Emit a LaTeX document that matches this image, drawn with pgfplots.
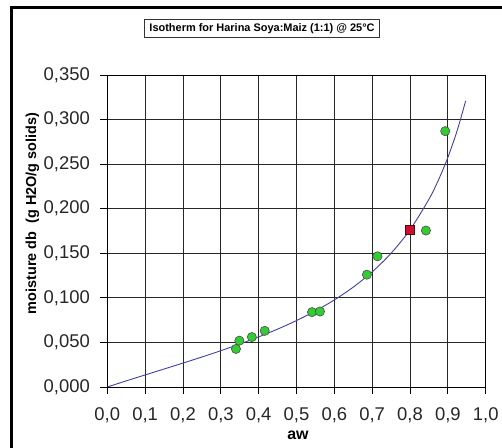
\documentclass[border=0pt]{standalone}
\usepackage{fontspec}
\setmainfont{Liberation Sans}
\usepackage{pgfplots}
\pgfplotsset{compat=1.18}
\definecolor{ptgreen}{RGB}{51,204,51}
\definecolor{ptred}{RGB}{204,16,48}
\definecolor{curveblue}{RGB}{64,64,160}
\begin{document}
\begin{tikzpicture}
\useasboundingbox (-107.3bp,-61bp) rectangle (394.7bp,387bp);
\draw[line width=3.5bp] (-95.8bp,-70bp) -- (-95.8bp,379.3bp) -- (410bp,379.3bp);
\begin{axis}[
  at={(0,0)}, anchor=south west,
  scale only axis, width=378.4bp, height=312bp,
  xmin=0, xmax=1, ymin=0, ymax=0.35,
  xtick={0,0.1,...,1.0}, ytick={0,0.05,...,0.35},
  grid=major,
  grid style={black!85, line width=0.9bp},
  axis line style={black, line width=0.9bp},
  xtick pos=bottom, ytick pos=left,
  tick align=outside, major tick length=7bp,
  tick style={black, line width=0.9bp},
  /pgf/number format/assume math mode=true,
  tick label style={font=\fontsize{18.5}{20}\selectfont, text=black!85},
  xticklabel style={yshift=-10bp, /pgf/number format/.cd, fixed, fixed zerofill, precision=1, use comma},
  yticklabel style={xshift=-7bp, /pgf/number format/.cd, fixed, fixed zerofill, precision=3, use comma},
  scaled y ticks=false, scaled x ticks=false,
  xlabel={aw},
  xlabel style={at={(axis description cs:0.504,-0.154)}, anchor=center, font=\bfseries\fontsize{16}{18}\selectfont},
  ylabel={moisture db \ (g H2O/g solids)},
  ylabel style={at={(axis description cs:-0.198,0.556)}, anchor=center, rotate=0, font=\bfseries\fontsize{14.5}{16}\selectfont},
  title={Isotherm for Harina Soya:Maiz (1:1) @ 25°C},
  title style={at={(axis description cs:0.409,1.131)}, anchor=center, draw=black!80, line width=0.8bp,
    font=\bfseries\fontsize{11}{12}\selectfont, inner xsep=5bp, inner ysep=3.5bp, text height=8.5bp, text depth=2.5bp},
]
\addplot[curveblue, line width=0.9bp, smooth] coordinates {
(0,0) (0.05,0.00686) (0.1,0.01354) (0.15,0.02017) (0.2,0.02683) (0.25,0.03365)
(0.3,0.04074) (0.35,0.04821) (0.4,0.05621) (0.45,0.06491) (0.5,0.07452)
(0.55,0.08532) (0.6,0.09766) (0.65,0.11204) (0.7,0.12916) (0.75,0.15006)
(0.8,0.17635) (0.85,0.21063) (0.875,0.23209) (0.9,0.25753) (0.925,0.28822) (0.947,0.3210)
};
\addplot[only marks, mark=*, mark size=4.6bp, mark options={fill=ptgreen, draw=black!70, line width=0.6bp}] coordinates {
(0.340,0.0427) (0.349,0.052) (0.382,0.056) (0.416,0.063) (0.541,0.084)
(0.562,0.0847) (0.686,0.126) (0.714,0.1466) (0.842,0.1755) (0.893,0.287)
};
\addplot[only marks, mark=square*, mark size=4.7bp, mark options={fill=ptred, draw=black!60!ptred, line width=0.6bp}] coordinates {
(0.800,0.1766)
};
\end{axis}
\end{tikzpicture}
\end{document}
